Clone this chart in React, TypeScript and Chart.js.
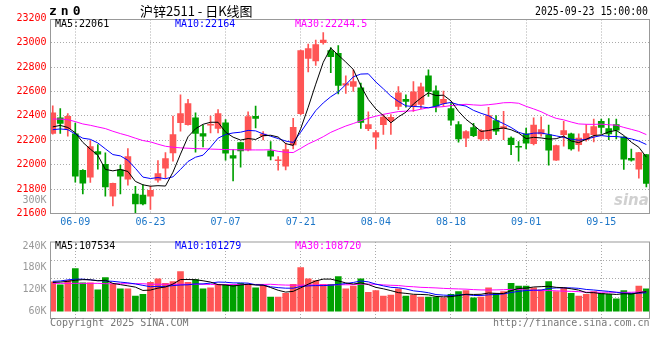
import React, { useEffect, useRef } from 'react';
import { Chart, registerables } from 'chart.js';

Chart.register(...registerables);

// ---------- data ----------
const dates = [
  '06-04','06-05','06-06','06-09','06-10','06-11','06-12','06-13','06-16','06-17',
  '06-18','06-19','06-20','06-23','06-24','06-25','06-26','06-27','06-30','07-01',
  '07-02','07-03','07-04','07-07','07-08','07-09','07-10','07-11','07-14','07-15',
  '07-16','07-17','07-18','07-21','07-22','07-23','07-24','07-25','07-28','07-29',
  '07-30','07-31','08-01','08-04','08-05','08-06','08-07','08-08','08-11','08-12',
  '08-13','08-14','08-15','08-18','08-19','08-20','08-21','08-22','08-25','08-26',
  '08-27','08-28','08-29','09-01','09-02','09-03','09-04','09-05','09-08','09-09',
  '09-10','09-11','09-12','09-15','09-16','09-17','09-18','09-19','09-22','09-23',
];

const opens = [
  22257,22385,22293,22252,21953,21898,22108,22002,21743,21958,
  21882,21760,21751,21743,21874,21972,22097,22344,22328,22385,
  22255,22323,22298,22344,22075,22181,22121,22396,22236,22113,
  22032,21988,22162,22418,22872,22851,23000,22935,22913,22652,
  22641,22630,22296,22225,22328,22361,22478,22535,22483,22494,
  22728,22606,22502,22459,22328,22217,22304,22211,22214,22361,
  22296,22219,22150,22252,22173,22252,22244,22037,22247,22252,
  22165,22206,22247,22355,22296,22328,22227,22053,21964,22083,
];
const highs = [
  22483,22459,22418,22342,21960,22198,22165,22097,21850,21996,
  22132,21822,21836,21822,22034,22100,22399,22573,22535,22426,
  22323,22399,22451,22369,22124,22185,22434,22481,22271,22189,
  22067,22178,22380,22940,22989,23022,23082,22960,22976,22728,
  22777,22668,22434,22279,22413,22410,22641,22573,22682,22668,
  22777,22647,22603,22500,22353,22279,22339,22287,22470,22402,
  22437,22228,22190,22301,22385,22393,22325,22160,22355,22260,
  22252,22328,22374,22374,22377,22374,22230,22129,22102,22085,
];
const lows = [
  22250,22257,22233,21857,21760,21855,21964,21743,21662,21760,
  21833,21599,21670,21634,21857,21887,22029,22274,22323,22102,
  22146,22260,22260,22037,21866,21980,22113,22301,22203,22040,
  21955,21958,22130,22410,22761,22813,22987,22755,22581,22584,
  22600,22298,22279,22129,22249,22249,22451,22472,22437,22459,
  22559,22432,22478,22323,22184,22148,22230,22198,22198,22246,
  22206,22083,22029,22129,22162,22233,21996,22035,22151,22119,
  22110,22192,22187,22257,22206,22211,21961,22029,21890,21817,
];
const closes = [
  22426,22339,22396,21906,21849,22149,22086,21817,21847,21906,
  22067,21678,21678,21790,21928,22051,22247,22418,22500,22257,
  22233,22331,22418,22094,22053,22113,22394,22380,22250,22070,
  22040,22124,22306,22935,22951,22984,23022,22886,22649,22665,
  22682,22347,22328,22263,22391,22388,22589,22519,22598,22638,
  22600,22478,22535,22364,22211,22271,22238,22279,22402,22274,
  22312,22165,22143,22176,22325,22287,22119,22157,22279,22130,
  22219,22255,22312,22306,22252,22282,22045,22037,22100,21846,
];
const volumes = [
  141700,133300,145800,178300,139200,139200,120000,153300,135000,122500,
  122500,102500,107500,140000,150000,137500,142500,170000,140000,147500,
  122500,125000,135000,135000,132500,137500,135000,125000,132500,100000,
  100000,110000,135000,180800,150000,145000,135000,135000,155800,122500,
  130000,150000,112500,117500,102500,105000,122500,102500,105000,100000,
  100000,100000,97500,107500,115000,117500,97500,100000,125000,110000,
  115000,137500,130000,130000,125000,120000,142500,115000,125000,110000,
  102500,107500,115000,110000,107500,95000,117500,110000,130000,122500,
];

// moving-average values before enough history exists in the window
const ma5Head = [22310, 22322, 22305, 22262];
const ma10Head = [22287, 22293, 22287, 22252, 22217, 22208, 22178, 22130, 22083];
const ma30Head = [
  22374,22374,22369,22353,22334,22323,22309,22296,22274,22255,
  22238,22217,22198,22187,22168,22151,22143,22138,22135,22132,
  22130,22128,22126,22124,22123,22122,22121,22121,22121,
];
const volMa5Head = [140000, 141000, 143000, 146000];
const volMa10Head = [143000, 144000, 147000, 149000, 149000, 147000, 145000, 144000, 143000];
const volMa30Head = [
  137500,137500,137500,137500,137500,137500,137500,136500,136500,136500,
  136500,136500,136500,135000,135000,135000,135000,135000,135000,135000,
  135000,134500,134500,134500,134500,134500,134500,134500,134500,
];

const xTickLabels = ['06-09', '06-23', '07-07', '07-21', '08-04', '08-18', '09-01', '09-15'];
const priceTicks = [21600, 21800, 22000, 22200, 22400, 22600, 22800, 23000, 23200];
const volLabelTicks = [60000, 120000, 180000, 240000];
const volLabelText = ['60K', '120K', '180K', '240K'];
const volGridTicks = [100000, 150000, 200000];

const titleText = '沪锌2511 - 日K线图';
const symbolText = 'zn0';
const timeText = '2025-09-23 15:00:00';
const priceMaText = ['MA5:22061', 'MA10:22164', 'MA30:22244.5'];
const volMaText = ['MA5:107534', 'MA10:101279', 'MA30:108720'];
const volTopText = '300K';
const copyrightText = 'Copyright 2025 SINA.COM';
const urlText = 'http://finance.sina.com.cn';

// ---------- styles ----------
const RED = '#ff5555';
const GREEN = '#00a000';
const MA_COLORS = ['#000000', '#0000ff', '#ff00ff'];
const GRID = '#aaaaaa';
const FRAME = '#999999';
const MONO = "'DejaVu Sans Mono', monospace";

function movingAvg(src: number[], n: number, head: number[]) {
  return src.map((_, i) => {
    if (i < n - 1) return head[i];
    let s = 0;
    for (let k = i - n + 1; k <= i; k++) s += src[k];
    return s / n;
  });
}

const candleColors = closes.map((c, i) => (c >= opens[i] ? RED : GREEN));
const xTickIdx = xTickLabels.map((d) => dates.indexOf(d));
const X_MIN = -0.3;
const X_MAX = 79.42;

function xScale(showLabels: boolean, height: number) {
  return {
    type: 'linear' as const,
    min: X_MIN,
    max: X_MAX,
    offset: false,
    afterBuildTicks: (s: any) => {
      s.ticks = xTickIdx.map((v) => ({ value: v }));
    },
    afterFit: (s: any) => {
      s.height = height;
    },
    grid: { color: GRID, lineWidth: 1, drawTicks: false, offset: false },
    border: { display: false, dash: [1, 2] },
    ticks: {
      display: showLabels,
      autoSkip: false,
      maxRotation: 0,
      padding: 3,
      color: '#1c76c8',
      font: { family: MONO, size: 10 },
      callback: (v: any) => dates[Math.round(Number(v))] ?? '',
    },
  };
}

function frame(ctx: CanvasRenderingContext2D, a: any) {
  ctx.strokeStyle = FRAME;
  ctx.lineWidth = 1;
  ctx.setLineDash([]);
  ctx.strokeRect(a.left, a.top, a.right - a.left, a.bottom - a.top);
}

const mainDecor = {
  id: 'mainDecor',
  afterDraw(chart: any) {
    const { ctx, chartArea: a } = chart;
    ctx.save();
    frame(ctx, a);
    ctx.textBaseline = 'middle';
    // symbol
    ctx.fillStyle = '#000';
    ctx.font = `bold 13px ${MONO}`;
    (ctx as any).letterSpacing = '4px';
    ctx.textAlign = 'left';
    ctx.fillText(symbolText, 49, 12);
    (ctx as any).letterSpacing = '0px';
    // title
    ctx.font = "13px 'Noto Sans CJK SC', sans-serif";
    ctx.fillText(titleText, 140, 11.5, 121);
    // time
    ctx.font = `12px ${MONO}`;
    ctx.fillText(timeText, 535, 12, 113);
    // MA legend
    ctx.font = `10px ${MONO}`;
    const xs = [55, 175, 295];
    priceMaText.forEach((t, i) => {
      ctx.fillStyle = MA_COLORS[i];
      ctx.fillText(t, xs[i], 24, 60 + i * 8);
    });
    // leaked volume label
    ctx.fillStyle = '#999';
    ctx.textAlign = 'right';
    ctx.fillText(volTopText, 46.5, 200.5);
    // watermark
    ctx.textAlign = 'left';
    ctx.fillStyle = 'rgba(170,170,170,0.55)';
    ctx.font = "italic bold 15px 'DejaVu Sans', sans-serif";
    ctx.fillText('sina', 614, 201);
    ctx.restore();
  },
};

const volDecor = {
  id: 'volDecor',
  afterDraw(chart: any) {
    const { ctx, chartArea: a } = chart;
    ctx.save();
    frame(ctx, a);
    ctx.textBaseline = 'middle';
    ctx.textAlign = 'left';
    ctx.font = `10px ${MONO}`;
    const xs = [55, 175, 295];
    volMaText.forEach((t, i) => {
      ctx.fillStyle = MA_COLORS[i];
      ctx.fillText(t, xs[i], a.top + 4.5);
    });
    ctx.fillStyle = '#777';
    ctx.fillText(copyrightText, 50, 91.5);
    ctx.textAlign = 'right';
    ctx.fillText(urlText, 649.5, 91.5);
    ctx.restore();
  },
};

function lineDs(label: string, vals: number[], color: string, yAxisID: string) {
  return {
    type: 'line' as const,
    label,
    data: vals.map((v, i) => ({ x: i, y: v })),
    borderColor: color,
    borderWidth: 1,
    pointRadius: 0,
    tension: 0,
    fill: false,
    order: 0,
    yAxisID,
  };
}

function mainConfig(): any {
  const ma5 = movingAvg(closes, 5, ma5Head);
  const ma10 = movingAvg(closes, 10, ma10Head);
  const ma30 = movingAvg(closes, 30, ma30Head);
  return {
    type: 'bar',
    data: {
      datasets: [
        lineDs('MA5', ma5, MA_COLORS[0], 'y'),
        lineDs('MA10', ma10, MA_COLORS[1], 'y'),
        lineDs('MA30', ma30, MA_COLORS[2], 'y'),
        {
          type: 'bar',
          label: 'body',
          data: opens.map((o, i) => ({ x: i, y: [o, closes[i]] })),
          backgroundColor: candleColors,
          borderWidth: 0,
          barThickness: 6,
          minBarLength: 1,
          grouped: false,
          order: 1,
        },
        {
          type: 'bar',
          label: 'wick',
          data: lows.map((l, i) => ({ x: i, y: [l, highs[i]] })),
          backgroundColor: candleColors,
          borderWidth: 0,
          barThickness: 1,
          grouped: false,
          order: 2,
        },
      ],
    },
    options: {
      animation: false,
      responsive: true,
      maintainAspectRatio: false,
      devicePixelRatio: 1,
      layout: { padding: { left: 0, top: 19.5, right: 10.5, bottom: 0 } },
      plugins: { legend: { display: false }, tooltip: { enabled: false } },
      scales: {
        x: xScale(true, 18.5),
        y: {
          type: 'linear',
          min: 21600,
          max: 23190,
          afterBuildTicks: (s: any) => {
            s.ticks = priceTicks.map((v) => ({ value: v }));
          },
          afterFit: (s: any) => {
            s.width = 50.5;
          },
          grid: {
            drawTicks: false,
            lineWidth: 1,
            color: (c: any) =>
              c.tick && (c.tick.value <= 21600 || c.tick.value > 23190) ? 'rgba(0,0,0,0)' : GRID,
          },
          border: { display: false, dash: [1, 2] },
          ticks: {
            autoSkip: false,
            padding: 4,
            color: '#ff0000',
            font: { family: MONO, size: 10 },
            callback: (v: any) => String(v),
          },
        },
      },
    },
    plugins: [mainDecor],
  };
}

function volConfig(): any {
  const vma5 = movingAvg(volumes, 5, volMa5Head);
  const vma10 = movingAvg(volumes, 10, volMa10Head);
  const vma30 = movingAvg(volumes, 30, volMa30Head);
  const allTicks = [...volLabelTicks, ...volGridTicks].sort((a, b) => a - b);
  return {
    type: 'bar',
    data: {
      datasets: [
        lineDs('MA5', vma5, MA_COLORS[0], 'y'),
        lineDs('MA10', vma10, MA_COLORS[1], 'y'),
        lineDs('MA30', vma30, MA_COLORS[2], 'y'),
        {
          type: 'bar',
          label: 'volume',
          data: volumes.map((v, i) => ({ x: i, y: v })),
          backgroundColor: candleColors,
          borderWidth: 0,
          barThickness: 6,
          base: 60000,
          grouped: false,
          order: 1,
        },
      ],
    },
    options: {
      animation: false,
      responsive: true,
      maintainAspectRatio: false,
      devicePixelRatio: 1,
      layout: { padding: { left: 0, top: 2.5, right: 10.5, bottom: 0 } },
      plugins: { legend: { display: false }, tooltip: { enabled: false } },
      scales: {
        x: xScale(false, 41.5),
        y: {
          type: 'linear',
          min: 41000,
          max: 251000,
          afterBuildTicks: (s: any) => {
            s.ticks = allTicks.map((v) => ({ value: v }));
          },
          afterFit: (s: any) => {
            s.width = 50.5;
          },
          grid: {
            drawTicks: false,
            lineWidth: 1,
            color: (c: any) => (c.tick && volGridTicks.includes(c.tick.value) ? GRID : 'rgba(0,0,0,0)'),
          },
          border: { display: false, dash: [1, 2] },
          ticks: {
            autoSkip: false,
            padding: 4,
            color: '#999999',
            font: { family: MONO, size: 10 },
            callback: (v: any) => {
              const k = volLabelTicks.indexOf(Number(v));
              return k >= 0 ? volLabelText[k] : '';
            },
          },
        },
      },
    },
    plugins: [volDecor],
  };
}

export default function App() {
  const mainRef = useRef<HTMLCanvasElement>(null);
  const volRef = useRef<HTMLCanvasElement>(null);
  useEffect(() => {
    const c1 = new Chart(mainRef.current as HTMLCanvasElement, mainConfig());
    const c2 = new Chart(volRef.current as HTMLCanvasElement, volConfig());
    return () => {
      c1.destroy();
      c2.destroy();
    };
  }, []);
  return (
    <div style={{ position: 'fixed', left: 0, top: 0, width: 660, height: 360, background: '#fff' }}>
      <div style={{ position: 'absolute', left: 0, top: 0, width: 660, height: 232 }}>
        <canvas ref={mainRef} />
      </div>
      <div style={{ position: 'absolute', left: 0, top: 232, width: 660, height: 128 }}>
        <canvas ref={volRef} />
      </div>
    </div>
  );
}
